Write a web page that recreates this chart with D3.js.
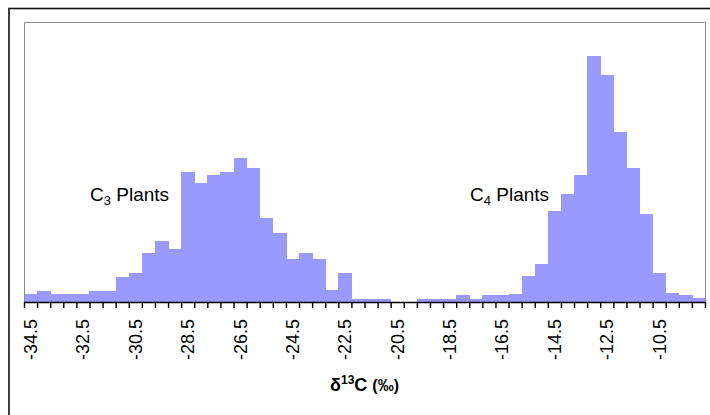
<!DOCTYPE html>
<html>
<head>
<meta charset="utf-8">
<script src="https://cdn.jsdelivr.net/npm/d3@7"></script>
<style>
  html, body { margin: 0; padding: 0; background: #fff; }
  svg { display: block; }
  text { font-family: "Liberation Sans", Arial, sans-serif; fill: #000; }
</style>
</head>
<body>
<svg id="chart" width="710" height="415"></svg>
<script>
// δ13C bins (‰), 0.5‰ wide
const bins = [
  -34.5, -34, -33.5, -33, -32.5, -32, -31.5, -31, -30.5, -30,
  -29.5, -29, -28.5, -28, -27.5, -27, -26.5, -26, -25.5, -25,
  -24.5, -24, -23.5, -23, -22.5, -22, -21.5, -21, -20.5, -20,
  -19.5, -19, -18.5, -18, -17.5, -17, -16.5, -16, -15.5, -15,
  -14.5, -14, -13.5, -13, -12.5, -12, -11.5, -11, -10.5, -10,
  -9.5, -9
];

// relative frequency per bin
const frequency = [
  8.5, 11.5, 8.5, 8.5, 8.5, 11.5, 11.5, 25, 29, 49.5,
  61, 53, 130.5, 119, 127.5, 130.5, 144.5, 134, 84.5, 69,
  43.5, 49.5, 43.5, 12.5, 29, 3.5, 3.3, 3.3, 0, 0,
  3.3, 3.3, 3.3, 7, 3.3, 7, 7, 8.5, 26, 38,
  91.5, 108, 127.5, 246.5, 227.5, 170.5, 134.5, 88.5, 29, 9,
  7, 4
];

// labelled bins on the axis
const tickLabels = [-34.5, -32.5, -30.5, -28.5, -26.5, -24.5, -22.5, -20.5, -18.5, -16.5, -14.5, -12.5, -10.5];

const svg = d3.select("#chart");
const W = 710, H = 415;
const plot = { left: 24, right: 705, top: 22, bottom: 302 };

svg.append("rect").attr("width", W).attr("height", H).attr("fill", "#fff");

// outer chart frame
svg.append("rect")
  .attr("x", 9).attr("y", 8.5)
  .attr("width", 760).attr("height", 460)
  .attr("fill", "none").attr("stroke", "#111").attr("stroke-width", 1.6);

const x = d3.scaleBand()
  .domain(bins)
  .range([plot.left, plot.right])
  .padding(0);

const y = d3.scaleLinear()
  .domain([0, 280])
  .range([plot.bottom, plot.top]);

// bars
svg.append("g")
  .attr("shape-rendering", "crispEdges")
  .selectAll("rect")
  .data(bins.map((b, i) => ({ bin: b, v: frequency[i] })))
  .join("rect")
  .attr("x", d => x(d.bin))
  .attr("y", d => y(d.v))
  .attr("width", x.bandwidth() + 0.6)
  .attr("height", d => y(0) - y(d.v))
  .attr("fill", "#9999ff");

// plot area border (top, left, right)
svg.append("path")
  .attr("d", `M${plot.left + 0.5},${plot.bottom}V${plot.top + 0.5}H${plot.right + 0.5}V${plot.bottom}`)
  .attr("fill", "none").attr("stroke", "#8a8a8a").attr("stroke-width", 1);

// tick marks on bin boundaries
const edge = d3.scaleLinear().domain([0, bins.length]).range([plot.left, plot.right]);
svg.append("g")
  .attr("transform", `translate(0,${plot.bottom})`)
  .call(d3.axisBottom(edge).tickValues(d3.range(bins.length + 1)).tickSize(6).tickSizeOuter(0).tickFormat(""))
  .call(g => g.selectAll("line").attr("stroke", "#000").attr("stroke-width", 1.4))
  .call(g => g.select(".domain").attr("stroke", "#000").attr("stroke-width", 1.6));

// rotated labels centred on their bins
svg.append("g")
  .attr("transform", `translate(0,${plot.bottom})`)
  .call(d3.axisBottom(x).tickValues(tickLabels).tickSize(0).tickFormat(d => d.toFixed(1)))
  .call(g => g.select(".domain").remove())
  .call(g => g.selectAll("text")
    .attr("font-size", 18)
    .attr("font-family", "Liberation Sans, Arial, sans-serif")
    .attr("fill", "#000")
    .attr("text-anchor", "end")
    .attr("transform", "rotate(-90)")
    .attr("x", -17)
    .attr("y", 0)
    .attr("dy", "0.36em"));

// group labels
function plantLabel(xPos, sub) {
  const t = svg.append("text").attr("x", xPos).attr("y", 201).attr("font-size", 19);
  t.append("tspan").text("C");
  t.append("tspan").attr("font-size", 13).attr("dy", 4).text(sub);
  t.append("tspan").attr("dy", -4).text(" Plants");
}
plantLabel(90, "3");
plantLabel(470, "4");

// axis title
const title = svg.append("text")
  .attr("x", (plot.left + plot.right) / 2)
  .attr("y", 391)
  .attr("text-anchor", "middle")
  .attr("font-weight", "bold")
  .attr("font-size", 18);
title.append("tspan").text("δ");
title.append("tspan").attr("font-size", 12).attr("dy", -7).text("13");
title.append("tspan").attr("dy", 7).text("C ");
title.append("tspan").attr("font-size", 16).text("(‰)");
</script>
</body>
</html>
